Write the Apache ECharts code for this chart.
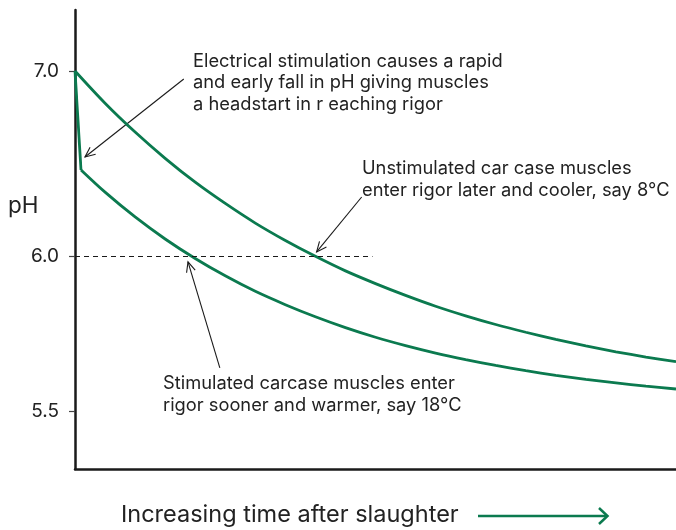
<!DOCTYPE html>
<html>
<head>
<meta charset="utf-8">
<script src="https://cdn.jsdelivr.net/npm/echarts@6/dist/echarts.min.js"></script>
<style>
  html, body { margin: 0; padding: 0; background: #fff; }
  #chart { width: 676px; height: 530px; }
</style>
</head>
<body>
<div id="chart"></div>
<script>
// ---- data ----
const timeUnstim = [0, 5, 10, 15, 20, 25, 30, 35, 40, 45, 50, 55, 60, 65, 70, 75, 80, 85, 90, 95, 100];
const phUnstim   = [7.000, 6.826, 6.670, 6.528, 6.399, 6.284, 6.178, 6.084, 5.999, 5.952, 5.911,
                    5.873, 5.838, 5.807, 5.779, 5.754, 5.731, 5.710, 5.691, 5.674, 5.659];

const timeStim = [0, 1, 5, 10, 15, 20, 25, 30, 35, 40, 45, 50, 55, 60, 65, 70, 75, 80, 85, 90, 95, 100];
const phStim   = [7.000, 6.465, 6.345, 6.211, 6.092, 5.992, 5.936, 5.886, 5.843, 5.804, 5.769,
                  5.738, 5.711, 5.687, 5.666, 5.647, 5.630, 5.615, 5.602, 5.591, 5.580, 5.571];

const phTickLabels = [5.5, 6.0, 7.0];
const rigorPH = 6.0;
const rigorLineEndTime = 49.5;

const annotationTexts = [
  'Electrical stimulation causes a rapid\nand early fall in pH giving muscles\na headstart in r eaching rigor',
  'Unstimulated car case muscles\nenter rigor later and cooler, say 8°C',
  'Stimulated carcase muscles enter\nrigor sooner and warmer, say 18°C'
];
// arrow anchors [time, pH]: tail -> tip
const arrowTails = [[18.1, 6.957], [47.7, 6.319], [24.1, 5.639]];
const arrowTips  = [[1.66, 6.535], [40.2, 6.022], [18.8, 5.981]];

const xTitle = 'Increasing time after slaughter';
const yTitle = 'pH';

// ---- the figure's pH axis is stretched below 6.0 ----
const LOWER_STRETCH = 310 / 185;
function toAxis(ph) { return ph >= 6 ? ph : 6 - (6 - ph) * LOWER_STRETCH; }
function fromAxis(u) { return u >= 6 ? u : 6 - (6 - u) / LOWER_STRETCH; }

const GREEN = '#0b7a4f';
const INK = '#1a1a1a';
const FONT = 'Inter, "Open Sans", sans-serif';

const unstimData = timeUnstim.map((t, i) => [t, toAxis(phUnstim[i])]);
const stimData = timeStim.map((t, i) => [t, toAxis(phStim[i])]);
const tickValues = phTickLabels.map(toAxis);

const chart = echarts.init(document.getElementById('chart'), null, { renderer: 'canvas' });

chart.setOption({
  animation: false,
  backgroundColor: '#fff',
  grid: { left: 75, right: 0, top: 10, bottom: 61 },
  xAxis: {
    type: 'value', min: 0, max: 100,
    axisLine: { show: true, onZero: false, lineStyle: { color: INK, width: 2.5 } },
    axisTick: { show: false },
    axisLabel: { show: false },
    splitLine: { show: false }
  },
  yAxis: {
    type: 'value',
    min: 6 - 213 / 185,
    max: 7 + 61 / 185,
    axisLine: { show: true, lineStyle: { color: INK, width: 2.5 } },
    axisTick: { show: true, length: 6, customValues: tickValues, lineStyle: { color: '#444', width: 1.2 } },
    axisLabel: {
      customValues: tickValues,
      formatter: v => fromAxis(v).toFixed(1),
      fontSize: 19, color: '#222', margin: 16, fontFamily: FONT
    },
    splitLine: { show: false }
  },
  series: [
    {
      name: 'Unstimulated', type: 'line', data: unstimData,
      symbol: 'none', smooth: 0.3,
      lineStyle: { color: GREEN, width: 2.8 },
      markLine: {
        silent: true, symbol: 'none',
        label: { show: false },
        lineStyle: { type: [5, 4], color: INK, width: 1 },
        data: [[{ coord: [0, toAxis(rigorPH)] }, { coord: [rigorLineEndTime, toAxis(rigorPH)] }]]
      }
    },
    {
      name: 'Stimulated drop', type: 'line', data: stimData.slice(0, 2),
      symbol: 'none', smooth: false,
      lineStyle: { color: GREEN, width: 2.8 }
    },
    {
      name: 'Stimulated', type: 'line', data: stimData.slice(1),
      symbol: 'none', smooth: 0.3,
      lineStyle: { color: GREEN, width: 2.8 }
    }
  ]
});

// ---- annotations (arrows anchored to data coordinates) ----
function arrowHead(tip, tail, len, halfAngle) {
  const ang = Math.atan2(tail[1] - tip[1], tail[0] - tip[0]);
  const a1 = ang + halfAngle, a2 = ang - halfAngle;
  return [
    [tip[0] + len * Math.cos(a1), tip[1] + len * Math.sin(a1)],
    tip,
    [tip[0] + len * Math.cos(a2), tip[1] + len * Math.sin(a2)]
  ];
}

const graphics = [];
arrowTails.forEach((tail, i) => {
  const p0 = chart.convertToPixel({ gridIndex: 0 }, [tail[0], toAxis(tail[1])]);
  const p1 = chart.convertToPixel({ gridIndex: 0 }, [arrowTips[i][0], toAxis(arrowTips[i][1])]);
  graphics.push({ type: 'polyline', shape: { points: [p0, p1] }, style: { stroke: INK, lineWidth: 1.1, fill: null }, silent: true });
  graphics.push({ type: 'polyline', shape: { points: arrowHead(p1, p0, 11, 0.42) }, style: { stroke: INK, lineWidth: 1.1, fill: null }, silent: true });
});

const textPos = [[193, 50.5], [362, 158], [163, 373]];
annotationTexts.forEach((txt, i) => {
  graphics.push({
    type: 'text', x: textPos[i][0], y: textPos[i][1], silent: true,
    style: { text: txt, font: '18.3px ' + FONT, fill: '#222', lineHeight: 21.5, verticalAlign: 'top', align: 'left' }
  });
});

graphics.push({
  type: 'text', x: 8, y: 206, silent: true,
  style: { text: yTitle, font: '22.5px ' + FONT, fill: '#222', verticalAlign: 'middle', align: 'left' }
});
graphics.push({
  type: 'text', x: 121, y: 515, silent: true,
  style: { text: xTitle, font: '23.5px ' + FONT, fill: '#222', verticalAlign: 'middle', align: 'left' }
});
graphics.push({
  type: 'polyline', shape: { points: [[478, 516], [607, 516]] }, silent: true,
  style: { stroke: GREEN, lineWidth: 2.5, fill: null }
});
graphics.push({
  type: 'polyline', shape: { points: [[599, 508], [607.5, 516], [599, 524]] }, silent: true,
  style: { stroke: GREEN, lineWidth: 2.5, fill: null }
});

chart.setOption({ graphic: graphics });
</script>
</body>
</html>
